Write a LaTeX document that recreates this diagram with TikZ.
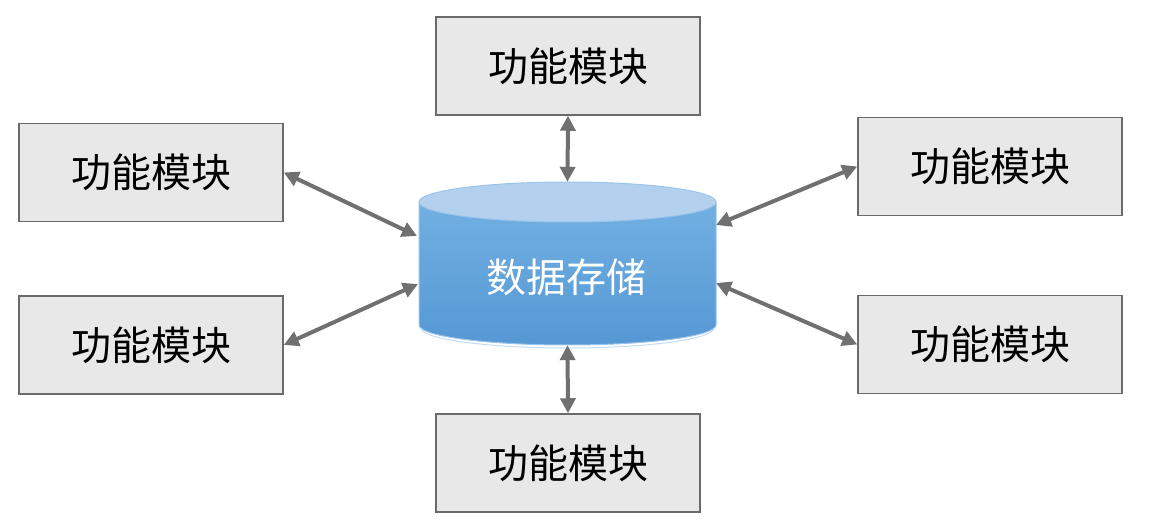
\documentclass[tikz,border=0pt]{standalone}
\usepackage{fontspec}
\setmainfont{Noto Sans CJK SC}
\usepackage{xcolor}
\usepackage{tikz}
\usetikzlibrary{arrows.meta,positioning,calc}
\definecolor{boxgray}{HTML}{E8E8E8}
\definecolor{edgegray}{HTML}{6A6A6A}
\definecolor{arrowgray}{HTML}{707070}
\definecolor{cyltop}{HTML}{B3D1EE}
\definecolor{cyllight}{HTML}{72B0E2}
\definecolor{cyldark}{HTML}{5598D4}
\definecolor{cylrim}{HTML}{9CC4EA}

\begin{document}
\begin{tikzpicture}[x=1pt, y=1pt,
    modbox/.style={draw=edgegray, line width=1.5pt, fill=boxgray,
        minimum width=264pt, minimum height=98pt, inner sep=0pt,
        font=\fontsize{40}{42}\selectfont},
    link/.style={{Triangle[length=15pt,width=15pt]}-{Triangle[length=15pt,width=15pt]},
        line width=4pt, arrowgray}]
            \useasboundingbox (0,0) rectangle (1154,528);

            % Cylinder (data store)
            \shade[top color=cyllight, bottom color=cyldark]
                (419,326) -- (419,203) arc[start angle=180, end angle=360, x radius=148.5, y radius=20]
                -- (716,326) -- cycle;
            \fill[cyltop] (567.5,326) ellipse[x radius=148.5, y radius=20];
            \draw[cylrim, line width=1pt] (419,326) -- (419,203) arc[start angle=180, end angle=360, x radius=148.5, y radius=20]
                -- (716,326) arc[start angle=0, end angle=180, x radius=148.5, y radius=20];
            \draw[cylrim, line width=1pt] (716,326) arc[start angle=0, end angle=-180, x radius=148.5, y radius=20];
            \draw[cylrim!60, line width=1pt] (421,200) arc[start angle=180, end angle=360, x radius=146.5, y radius=20];
            \node[minimum width=297pt, minimum height=163pt, inner sep=0pt] (db) at (567.5,264.5) {};
            \node[text=white, font=\fontsize{40}{42}\selectfont] (dblabel) at (566,251) {数据存储};
            \coordinate (dbLU) at (417,292);
            \coordinate (dbLL) at (418,244);
            \coordinate (dbRU) at (716,303);
            \coordinate (dbRL) at (716,245);

            % Modules
            \node[modbox] (mtop) at (568,462) {功能模块};
            \node[modbox] (mlu) at (151,355.5) {功能模块};
            \node[modbox] (mll) at (151,183) {功能模块};
            \node[modbox] (mru) at (990,361.5) {功能模块};
            \node[modbox] (mrl) at (990,183.5) {功能模块};
            \node[modbox] (mbot) at (568,65) {功能模块};

            % Arrows between modules and store
            \draw[link] (mtop.south) -- (db.north);
            \draw[link] (mbot.north) -- (db.south);
            \draw[link] (mlu.east) -- (dbLU);
            \draw[link] (mll.east) -- (dbLL);
            \draw[link] (dbRU) -- (mru.west);
            \draw[link] (dbRL) -- (mrl.west);

        \end{tikzpicture}
\end{document}
